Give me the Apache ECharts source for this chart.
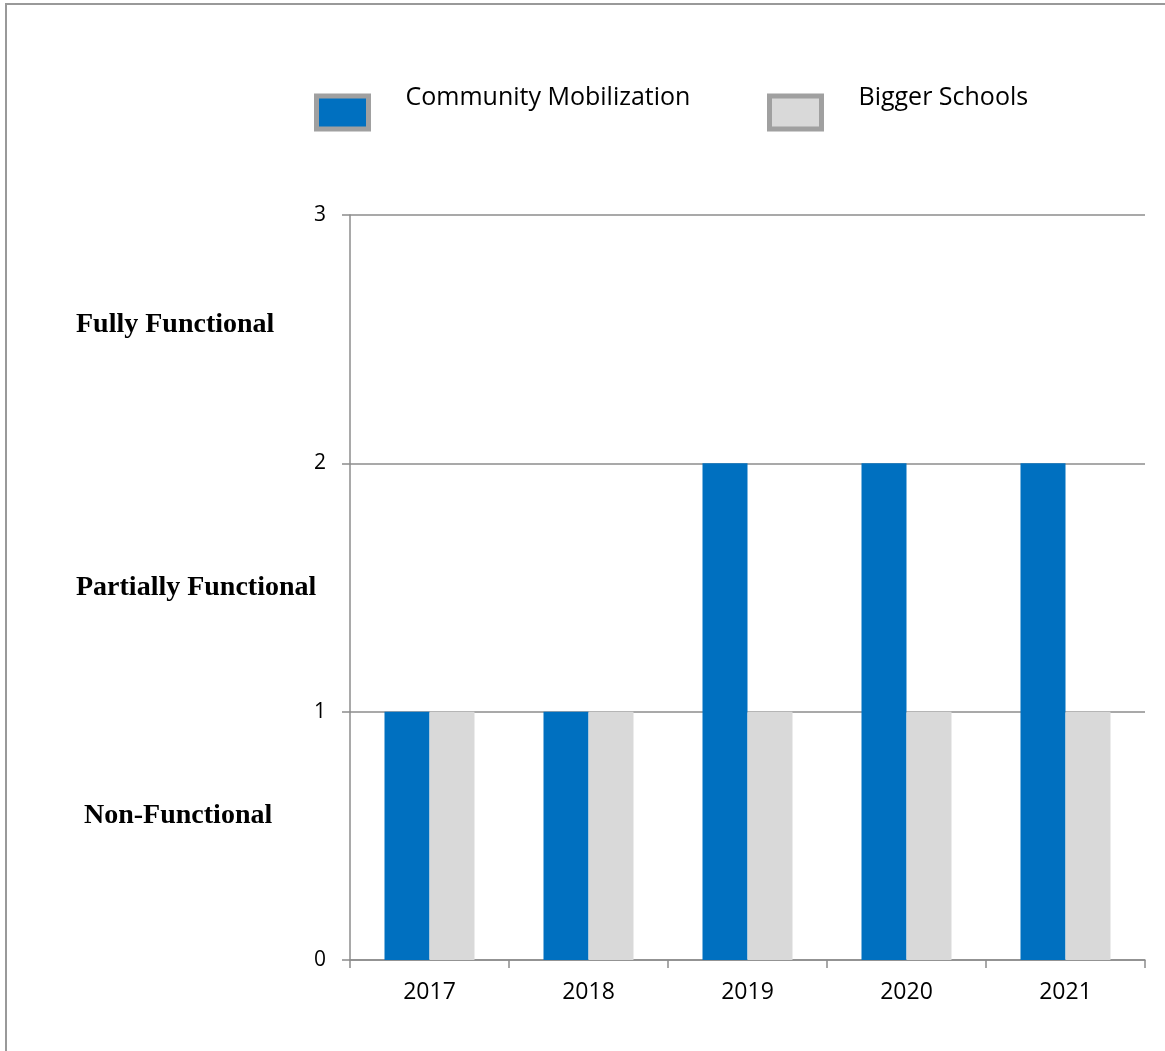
<!DOCTYPE html>
<html>
<head>
<meta charset="utf-8">
<script src="https://cdn.jsdelivr.net/npm/echarts@6/dist/echarts.min.js"></script>
<style>
  html, body { margin: 0; padding: 0; background: #fff; }
  #chart { width: 1165px; height: 1051px; }
</style>
</head>
<body>
<div id="chart"></div>
<script>
const years = ['2017', '2018', '2019', '2020', '2021']
const communityMobilization = [1, 1, 2, 2, 2]
const biggerSchools = [1, 1, 1, 1, 1]
const levelLabels = ['Fully Functional', 'Partially Functional', 'Non-Functional']

const chart = echarts.init(document.getElementById('chart'))
const font = '"Open Sans", "Noto Sans", sans-serif'
const grey = '#8c8c8c'

// one legend per item so each can sit where the reference puts it
const legendItem = (name, left) => ({
  data: [name],
  left: left,
  top: 80,
  icon: 'rect',
  itemWidth: 52,
  itemHeight: 33,
  selectedMode: false,
  itemStyle: { borderColor: '#a0a0a0', borderWidth: 5 },
  formatter: '{t|{name}}',
  textStyle: {
    rich: {
      t: { color: '#000', fontSize: 25, fontFamily: font, padding: [0, 0, 30, 32] },
    },
  },
})

const sideLabel = (text, left, top) => ({
  type: 'text',
  left: left,
  top: top,
  silent: true,
  style: { text: text, fill: '#000', fontSize: 28, fontWeight: 'bold', fontFamily: '"Liberation Serif", "Times New Roman", serif' },
})

const option = {
  backgroundColor: '#fff',
  animation: false,
  legend: [legendItem('Community Mobilization', 309), legendItem('Bigger Schools', 762)],
  graphic: [
    {
      type: 'rect',
      shape: { x: 6, y: 4, width: 1300, height: 1200 },
      style: { fill: 'none', stroke: '#999', lineWidth: 2 },
      silent: true,
    },
    sideLabel(levelLabels[0], 76, 311),
    sideLabel(levelLabels[1], 76, 574),
    sideLabel(levelLabels[2], 84, 802),
  ],
  grid: { left: 350, right: 20, top: 215, bottom: 91 },
  xAxis: {
    type: 'category',
    data: years,
    axisLine: { lineStyle: { color: grey, width: 1.5 } },
    axisTick: { show: true, length: 8, lineStyle: { color: grey, width: 1.5 } },
    axisLabel: { color: '#000', fontSize: 23, fontFamily: font, margin: 21 },
  },
  yAxis: {
    type: 'value',
    min: 0,
    max: 3,
    interval: 1,
    axisLine: { show: true, lineStyle: { color: grey, width: 1.5 } },
    axisTick: { show: true, length: 8, lineStyle: { color: grey, width: 1.5 } },
    axisLabel: { color: '#000', fontSize: 21, fontFamily: font, margin: 24 },
    splitLine: { lineStyle: { color: grey, width: 1.5 } },
  },
  series: [
    {
      name: 'Community Mobilization',
      type: 'bar',
      data: communityMobilization,
      barWidth: 45,
      barGap: '0%',
      itemStyle: { color: '#0070c0' },
    },
    {
      name: 'Bigger Schools',
      type: 'bar',
      data: biggerSchools,
      barWidth: 45,
      barGap: '0%',
      itemStyle: { color: '#d9d9d9' },
    },
  ],
}
chart.setOption(option)
</script>
</body>
</html>
